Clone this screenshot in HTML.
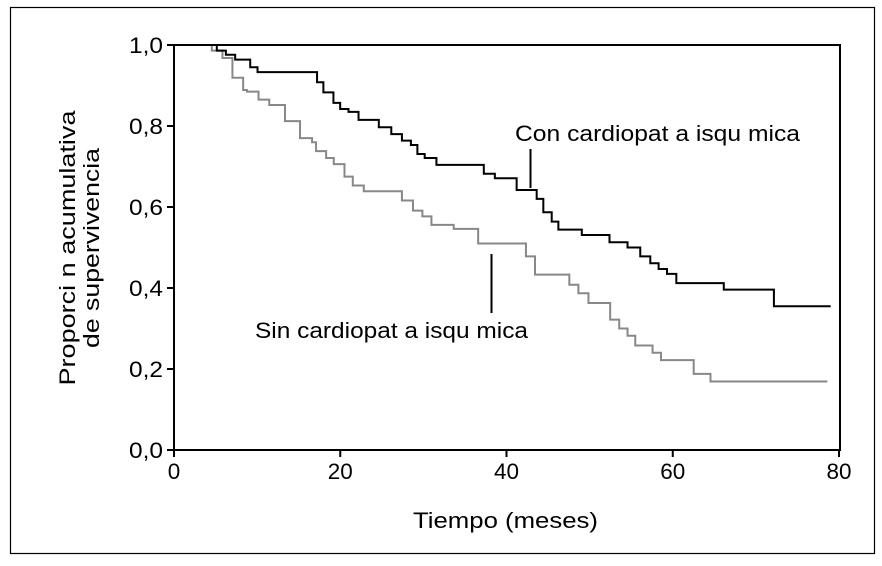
<!DOCTYPE html>
<html><head><meta charset="utf-8"><style>
body{margin:0;background:#fff}
svg{display:block;font-family:"Liberation Sans",Arial,sans-serif}
</style></head><body>
<svg width="882" height="566" viewBox="0 0 882 566">
<rect x="10.5" y="7.5" width="864" height="546" fill="none" stroke="#000" stroke-width="1.2"/>
<g id="plot"></g>
<g id="axes"></g>
<text x="413" y="528" font-size="22" textLength="185" lengthAdjust="spacingAndGlyphs">Tiempo (meses)</text>
<text transform="translate(75,248) rotate(-90)" font-size="22" text-anchor="middle" textLength="275" lengthAdjust="spacingAndGlyphs">Proporci n acumulativa</text>
<text transform="translate(99,248) rotate(-90)" font-size="22" text-anchor="middle" textLength="200" lengthAdjust="spacingAndGlyphs">de supervivencia</text>
<text x="515" y="141" font-size="22" textLength="285" lengthAdjust="spacingAndGlyphs">Con cardiopat a isqu mica</text>
<line x1="530.5" y1="149" x2="530.5" y2="188" stroke="#000" stroke-width="2"/>
<text x="255" y="338" font-size="22" textLength="273" lengthAdjust="spacingAndGlyphs">Sin cardiopat a isqu mica</text>
<line x1="491.5" y1="254" x2="491.5" y2="313" stroke="#000" stroke-width="2"/>
</svg>
<script>
const xTicks=[0,20,40,60,80];
const yTicks=[0,0.2,0.4,0.6,0.8,1.0];
const yTickLabels=["0,0","0,2","0,4","0,6","0,8","1,0"];
const conTimes=[0,5.15,6.24,7.36,9.17,10.05,17.21,17.97,19.18,19.99,20.99,22.2,24.64,26.14,27.42,28.5,29.28,30.16,31.57,37.27,38.6,41.22,43.63,44.43,45.44,46.24,49.06,52.39,54.56,56.09,57.3,58.3,59.31,60.43,66.14,72.17,79.0];
const conSurv=[1,0.986,0.976,0.964,0.945,0.933,0.908,0.883,0.857,0.842,0.835,0.815,0.797,0.78,0.764,0.753,0.731,0.721,0.704,0.682,0.671,0.642,0.62,0.587,0.564,0.544,0.531,0.513,0.5,0.478,0.461,0.447,0.435,0.412,0.396,0.355,0.355];
const sinTimes=[0,4.55,5.83,7.03,8.32,8.77,10.17,11.46,13.35,15.16,16.61,17.09,18.3,19.22,20.51,21.51,22.83,27.42,28.75,29.88,30.97,33.65,36.59,42.34,43.43,47.56,48.65,49.86,52.47,53.56,54.56,55.49,57.57,58.59,62.52,64.54,78.6];
const sinSurv=[1,0.986,0.968,0.919,0.889,0.885,0.865,0.852,0.812,0.77,0.76,0.738,0.721,0.706,0.675,0.653,0.639,0.616,0.591,0.577,0.556,0.546,0.51,0.478,0.433,0.408,0.387,0.363,0.322,0.3,0.282,0.258,0.24,0.222,0.188,0.169,0.169];
const X0=174,X1=839,Y0=450,Y1=45;
const xs=t=>X0+t/80*(X1-X0);
const ys=v=>Y0-v*(Y0-Y1);
const NS="http://www.w3.org/2000/svg";
const plot=document.getElementById('plot'),axes=document.getElementById('axes');
function mk(tag,attrs,parent){const e=document.createElementNS(NS,tag);for(const k in attrs)e.setAttribute(k,attrs[k]);parent.appendChild(e);return e;}
function stepPath(T,S){let d="M"+xs(T[0])+","+ys(S[0]);for(let i=1;i<T.length;i++){d+=" H"+xs(T[i])+" V"+ys(S[i]);}return d;}
const pSin=mk('path',{d:stepPath(sinTimes,sinSurv),fill:"none",stroke:"#888","stroke-width":2},plot);


const pCon=mk('path',{d:stepPath(conTimes,conSurv),fill:"none",stroke:"#000","stroke-width":2},plot);


const box=mk('rect',{x:X0,y:Y1,width:X1-X0+1,height:Y0-Y1,fill:"none",stroke:"#000","stroke-width":2},axes);


xTicks.forEach(t=>{
 const l=mk('line',{x1:xs(t),x2:xs(t),y1:Y0,y2:Y0+7,stroke:"#000","stroke-width":2},axes);
 
 
 const tx=mk('text',{x:xs(t),y:Y0+29,"font-size":22,"text-anchor":"middle",textLength:String(t).length*12.5,lengthAdjust:"spacingAndGlyphs"},axes);
 tx.textContent=t;
 
 
});
yTicks.forEach((v,i)=>{
 const l=mk('line',{x1:X0-7,x2:X0,y1:ys(v),y2:ys(v),stroke:"#000","stroke-width":2},axes);
 
 
 const tx=mk('text',{x:X0-11,y:ys(v)+8,"font-size":22,"text-anchor":"end",textLength:34,lengthAdjust:"spacingAndGlyphs"},axes);
 tx.textContent=yTickLabels[i];
 
 
});
</script>
</body></html>
